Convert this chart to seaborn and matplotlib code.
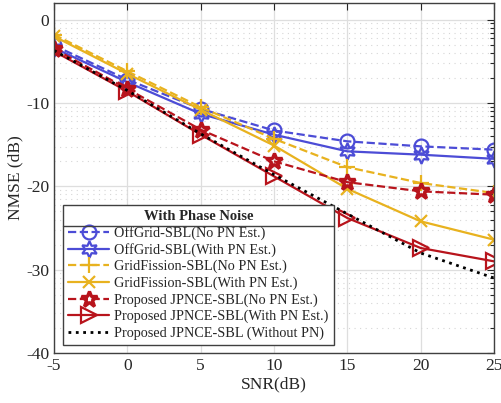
import numpy as np
import pandas as pd
import seaborn as sns
import matplotlib
matplotlib.use("Agg")
import matplotlib.pyplot as plt
from matplotlib.lines import Line2D
from matplotlib.ticker import FixedLocator

# Data
snr = [-5, 0, 5, 10, 15, 20, 25]
offgrid_no_pn = [-3.1, -7.2, -10.7, -13.3, -14.6, -15.2, -15.6]
offgrid_with_pn = [-3.4, -7.5, -11.3, -13.8, -15.8, -16.2, -16.7]
gridfission_no_pn = [-1.8, -6.2, -10.5, -14.3, -17.7, -19.6, -20.8]
gridfission_with_pn = [-2.0, -6.5, -10.8, -15.1, -20.3, -24.2, -26.4]
jpnce_no_pn = [-3.5, -8.3, -13.2, -17.0, -19.5, -20.6, -21.0]
jpnce_with_pn = [-3.8, -8.6, -13.8, -18.8, -23.8, -27.4, -29.0]
jpnce_without_pn = [-3.7, -8.5, -13.7, -18.6, -23.3, -28.0, -31.0]

labels = [
    "OffGrid-SBL(No PN Est.)",
    "OffGrid-SBL(With PN Est.)",
    "GridFission-SBL(No PN Est.)",
    "GridFission-SBL(With PN Est.)",
    "Proposed JPNCE-SBL(No PN Est.)",
    "Proposed JPNCE-SBL(With PN Est.)",
    "Proposed JPNCE-SBL (Without PN)",
]

blue = "#4c4cd6"
yellow = "#e8b21f"
red = "#b8141c"

styles = [
    dict(color=blue, linestyle="--", marker="o", markersize=10, mew=1.6),
    dict(color=blue, linestyle="-", marker=(6, 1, 0), markersize=12, mew=1.6),
    dict(color=yellow, linestyle="--", marker="+", markersize=12, mew=1.6),
    dict(color=yellow, linestyle="-", marker="x", markersize=9, mew=1.6),
    dict(color=red, linestyle="--", marker="*", markersize=12, mew=2.4),
    dict(color=red, linestyle="-", marker=">", markersize=11, mew=1.6),
    dict(color="black", linestyle=":", marker=None, markersize=0, mew=1.0),
]
series = [offgrid_no_pn, offgrid_with_pn, gridfission_no_pn, gridfission_with_pn,
          jpnce_no_pn, jpnce_with_pn, jpnce_without_pn]

sns.set_style("white")
plt.rcParams["font.family"] = ["Liberation Serif", "DejaVu Serif"]
plt.rcParams["axes.unicode_minus"] = False

fig = plt.figure(figsize=(5.02, 4.03), dpi=100)
ax = fig.add_axes([0.1076, 0.124, 0.8765, 0.8686])

for vals, lab, st in zip(series, labels, styles):
    df = pd.DataFrame({"SNR": snr, "NMSE": vals})
    lw = 1.6 if st["linestyle"] != ":" else 2.0
    sns.lineplot(data=df, x="SNR", y="NMSE", ax=ax, label=lab,
                 color=st["color"], linestyle=st["linestyle"], linewidth=lw,
                 marker=st["marker"], markersize=st["markersize"],
                 markerfacecolor="none", markeredgecolor=st["color"],
                 markeredgewidth=st["mew"])

ax.set_xlim(-5, 25)
ax.set_ylim(-40, 2)
ax.set_xticks(snr)
ax.set_yticks([-40, -30, -20, -10, 0])

# minor ticks (log-spaced inside each 10 dB span, as in the original)
minor = []
for top in [0, -10, -20, -30]:
    for k in range(2, 10):
        minor.append(top - 10 + 10 * np.log10(k))
ax.yaxis.set_minor_locator(FixedLocator(minor))

ax.grid(True, which="major", color="#dedede", linewidth=0.9, linestyle="-")
ax.grid(True, which="minor", axis="y", color="#d6d6d6", linewidth=0.8, linestyle=(0, (1, 4)))
ax.set_axisbelow(True)

ax.tick_params(axis="both", which="both", direction="in", top=True, right=True,
               labelsize=12.5, colors="#262626")
ax.tick_params(axis="both", which="major", length=5, width=0.8)
ax.tick_params(axis="y", which="minor", length=3, width=0.8)
for sp in ax.spines.values():
    sp.set_color("#404040")
    sp.set_linewidth(1.0)

ax.set_xlabel("SNR(dB)", fontsize=12.5, color="#262626", labelpad=2)
ax.set_ylabel("NMSE (dB)", fontsize=12.5, color="#262626", labelpad=2)

leg = ax.legend(loc="lower left", bbox_to_anchor=(0.02, 0.023), borderaxespad=0,
                fontsize=10.3, title="With Phase Noise",
                title_fontproperties={"weight": "bold", "size": 10.5},
                handlelength=2.9, handletextpad=0.35, labelspacing=0.22,
                borderpad=0.35, fancybox=False, framealpha=1.0, edgecolor="#404040")
leg.get_frame().set_linewidth(1.0)

# separator line under legend title
fig.canvas.draw()
r = fig.canvas.get_renderer()
fb = leg.get_frame().get_window_extent(r)
tb = leg.get_title().get_window_extent(r)
ysep = tb.y0 - 3
inv = fig.transFigure.inverted()
(x0, y0), (x1, y1) = inv.transform([(fb.x0, ysep), (fb.x1, ysep)])
fig.add_artist(Line2D([x0, x1], [y0, y1], transform=fig.transFigure,
                      color="#404040", linewidth=1.0, zorder=10))

fig.savefig("out.png", dpi=100)
